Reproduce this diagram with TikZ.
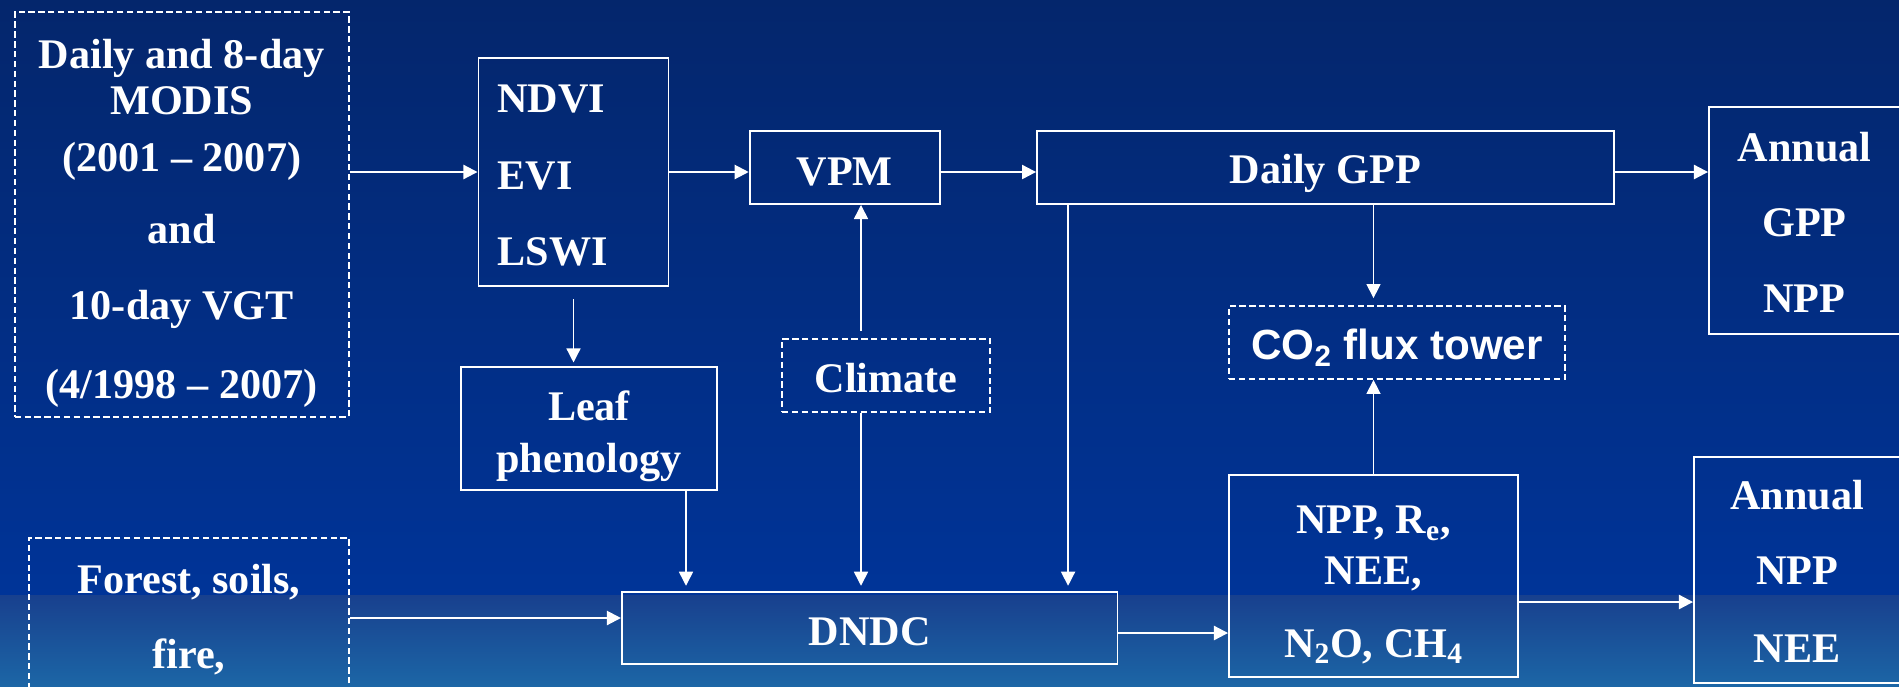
\documentclass[tikz,border=0pt]{standalone}
\usepackage{fontspec}
\setmainfont{Liberation Serif}
\setsansfont{Liberation Sans}
\usetikzlibrary{arrows.meta}
\definecolor{bgtop}{RGB}{4,38,108}
\definecolor{bgmid}{RGB}{0,52,152}
\definecolor{bglow}{RGB}{24,64,142}
\definecolor{bgbot}{RGB}{28,102,166}

\begin{document}
\begin{tikzpicture}[x=0.2mm,y=-0.2mm,
        box/.style={draw=white,line width=1.1pt,inner sep=0pt},
        dbox/.style={box,line width=1pt,dash pattern=on 3.6pt off 2pt},
        txt/.style={text=white,align=center,inner sep=0pt,font=\bfseries\fontsize{24}{28}\selectfont},
        link/.style={-{Triangle[length=8pt,width=8pt]},white,line width=0.8pt},
        flow/.style={link,line width=1.2pt}]
        \useasboundingbox (0,0) rectangle (1899,686);
        \clip (0,0) rectangle (1899,686);
        \shade[top color=bgtop,bottom color=bgmid] (0,0) rectangle (1899,595);
        \shade[top color=bglow,bottom color=bgbot] (0,595) rectangle (1899,686);

        \node[dbox,minimum width=6.68cm,minimum height=8.1cm,
            label={[txt,yshift=-5pt]center:{Daily and 8-day\\[-2pt] MODIS\\[4.5pt] (2001 -- 2007)\\[13pt] and\\[15.5pt] 10-day VGT\\[16.5pt] (4/1998 -- 2007)}}]
            (modis) at (181.7,214.5) {};
        \node[box,minimum width=3.8cm,minimum height=4.56cm,
            label={[txt,align=left,text width=3.04cm,yshift=-2pt]center:{NDVI\\[15.6pt] EVI\\[15.6pt] LSWI}}]
            (ndvi) at (573.5,172) {};
        \node[box,minimum width=3.8cm,minimum height=1.46cm,
            label={[txt,yshift=-2.6pt]center:VPM}] (vpm) at (844.7,167.5) {};
        \node[box,minimum width=11.53cm,minimum height=1.46cm,
            label={[txt,yshift=-3.5pt]center:Daily GPP}] (gpp) at (1325.3,167.5) {};
        \node[box,minimum width=3.82cm,minimum height=4.54cm,
            label={[txt,yshift=-1pt]center:{Annual\\[15pt] GPP\\[15pt] NPP}}] (annual1) at (1804.5,220.5) {};
        \node[box,minimum width=5.11cm,minimum height=2.47cm,
            label={[txt,yshift=-4.5pt]center:{Leaf\\[1.6pt] phenology}}] (leaf) at (589,428.7) {};
        \node[dbox,minimum width=4.16cm,minimum height=1.46cm,
            label={[txt,yshift=-1.4pt]center:Climate}] (climate) at (886,375.5) {};
        \node[dbox,minimum width=6.72cm,minimum height=1.46cm,
            label={[txt,yshift=-3pt,font=\sffamily\bfseries\fontsize{24}{28}\selectfont]center:CO\textsubscript{2} flux tower}]
            (co2) at (1397,342.5) {};
        \node[dbox,minimum width=6.4cm,minimum height=3.2cm,
            label={[txt,yshift=-1pt]center:{Forest, soils,\\[15pt] fire,}}] (forest) at (189,618) {};
        \node[box,minimum width=9.91cm,minimum height=1.44cm,
            label={[txt,yshift=-2.3pt]center:DNDC}] (dndc) at (869.7,628) {};
        \node[box,minimum width=5.78cm,minimum height=4.04cm,
            label={[txt,yshift=-5pt]center:{NPP, R\textsubscript{e},\\[1pt] NEE,\\[13.3pt] N\textsubscript{2}O, CH\textsubscript{4}}}]
            (npp) at (1373.5,576) {};
        \node[box,minimum width=4.12cm,minimum height=4.52cm,
            label={[txt,yshift=-0.7pt]center:{Annual\\[15pt] NPP\\[16pt] NEE}}] (annual2) at (1797,570) {};

        \draw[flow] (modis.east |- ndvi.west) -- (ndvi.west);
        \draw[flow] (ndvi.east) -- (ndvi.east -| vpm.west);
        \draw[flow] (ndvi.east -| vpm.east) -- (ndvi.east -| gpp.west);
        \draw[flow] (ndvi.east -| gpp.east) -- (ndvi.east -| annual1.west);
        \draw[link,shorten <=7pt,shorten >=2pt] (ndvi.south) -- (ndvi.south |- leaf.north);
        \draw[link,shorten <=4pt] ([xshift=-0.5cm]climate.north) -- ([xshift=-0.5cm]climate.north |- vpm.south);
        \draw[link,shorten >=3pt] ([xshift=-0.5cm]climate.south) -- ([xshift=-0.5cm]climate.south |- dndc.north);
        \draw[link,shorten >=3pt] ([xshift=1.94cm]leaf.south) -- ([xshift=1.94cm]leaf.south |- dndc.north);
        \draw[link,shorten >=3pt] ([xshift=0.64cm]gpp.south west) -- ([xshift=0.64cm]gpp.south west |- dndc.north);
        \draw[link,shorten >=4pt] (npp.north |- gpp.south) -- (npp.north |- co2.north);
        \draw[link] (npp.north) -- (npp.north |- co2.south);
        \draw[flow] (forest.east) -- (forest.east -| dndc.west);
        \draw[flow] ([yshift=-0.1cm]dndc.east) -- ([yshift=-0.1cm]dndc.east -| npp.west);
        \draw[flow] ([yshift=-0.52cm]npp.east) -- ([yshift=-0.52cm]npp.east -| annual2.west);
\end{tikzpicture}
\end{document}
